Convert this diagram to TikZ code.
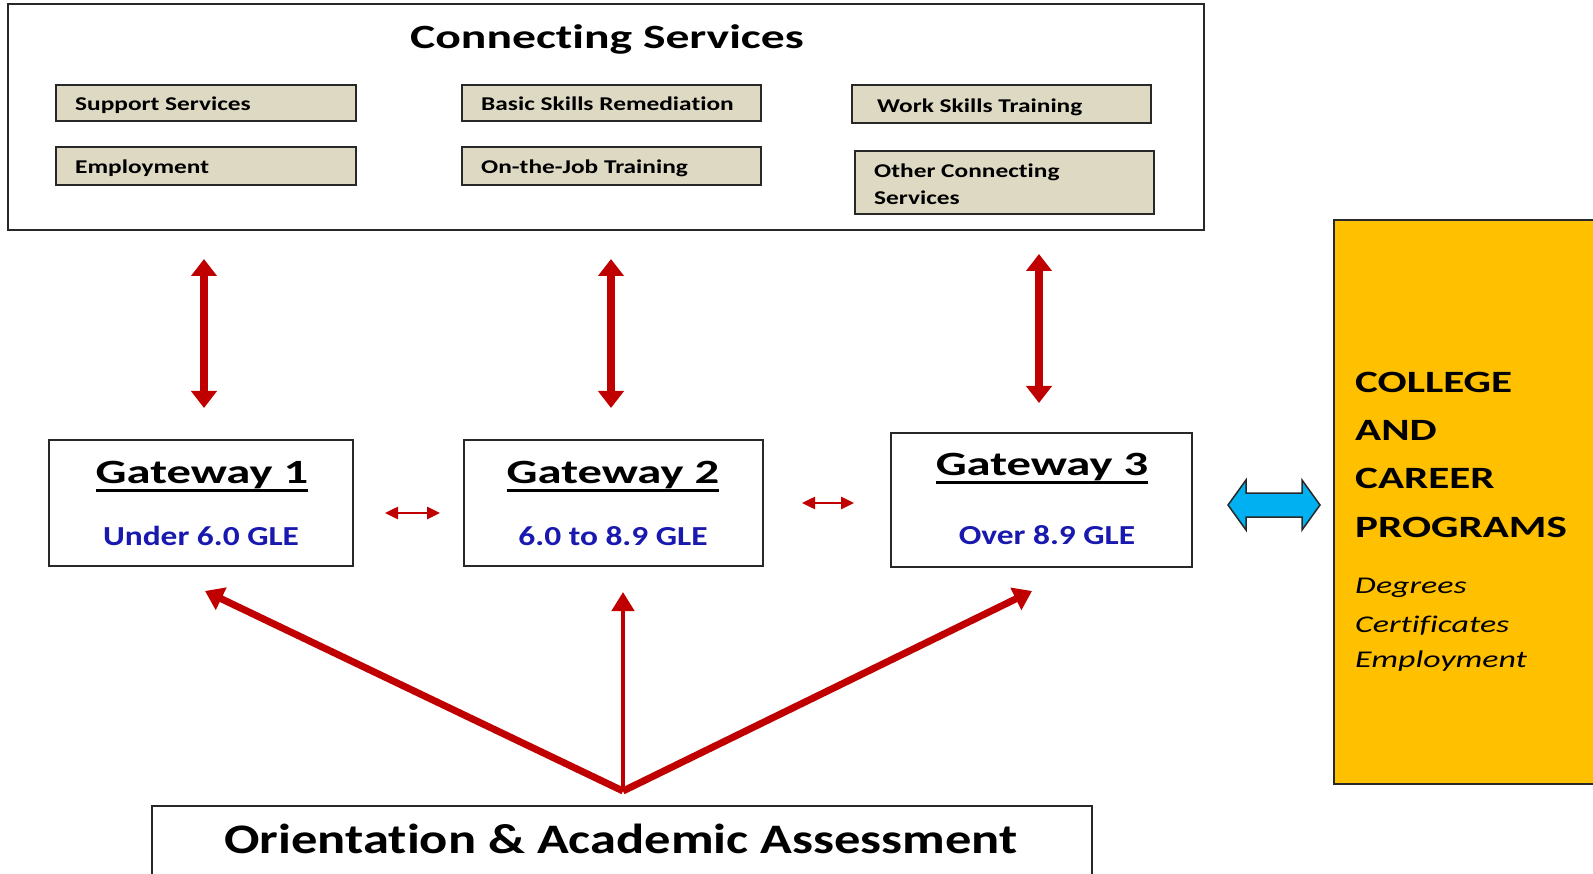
\documentclass[tikz,border=0pt]{standalone}
\usepackage{fontspec}
\defaultfontfeatures{Ligatures=NoCommon}
\setmainfont{Carlito}[FakeStretch=1.3]
\newfontfamily\fTitle{Carlito}[FakeStretch=1.40]
\newfontfamily\fGate{Carlito}[FakeStretch=1.43]
\newfontfamily\fGle{Carlito}[FakeStretch=1.215]
\newfontfamily\fCaps{Carlito}[FakeStretch=1.39]
\newfontfamily\fItal{Carlito}[FakeStretch=1.41]
\newfontfamily\fOaa{Carlito}[FakeStretch=1.25]
\usetikzlibrary{arrows.meta}
\definecolor{cred}{RGB}{192,0,0}
\definecolor{tanbox}{RGB}{221,217,195}
\definecolor{goldbox}{RGB}{255,192,0}
\definecolor{cyanarrow}{RGB}{0,176,240}
\definecolor{gleblue}{RGB}{25,25,175}
\definecolor{edgegray}{RGB}{40,40,40}
\tikzset{
  box/.style={draw=edgegray, line width=1.5pt, inner sep=0pt},
  beige/.style={box, fill=tanbox, minimum width=299pt},
  txt/.style={inner sep=0pt},
  btxt/.style={txt, anchor=base west, font=\fontsize{19.5}{27}\selectfont\bfseries},
  gtitle/.style={txt, anchor=base, font=\fontsize{34}{40}\fGate\bfseries},
  gsub/.style={txt, anchor=base, text=gleblue, font=\fontsize{27.5}{32}\fGle\bfseries},
  ul/.style={line width=3pt, black},
  ycap/.style={txt, anchor=base west, font=\fontsize{31}{36}\fCaps\bfseries},
  yital/.style={txt, anchor=base west, font=\fontsize{24}{28}\fItal\itshape},
  vred/.style={cred, line width=8pt, {Triangle[width=25pt,length=17pt]}-{Triangle[width=25pt,length=17pt]}},
  hred/.style={cred, line width=2.5pt, {Triangle[width=12pt,length=13pt]}-{Triangle[width=12pt,length=13pt]}},
  fanside/.style={cred, line width=7pt, -{Triangle[width=24pt,length=18pt]}},
  fanmid/.style={cred, line width=4.5pt, -{Triangle[width=22pt,length=19pt]}},
}
\begin{document}
\begin{tikzpicture}[x=1pt,y=-1pt]
\useasboundingbox (0,0) rectangle (1593,874);
\clip (0,0) rectangle (1593,874);
\fill[white] (0,0) rectangle (1593,874);

% top container
\node[box, minimum width=1196pt, minimum height=226pt] (cs) at (606,117) {};
\node[txt, anchor=base, font=\fontsize{34}{40}\fTitle\bfseries] (cst) at (607,49) {Connecting Services};

\node[beige, minimum width=300pt, minimum height=36pt] (ss) at (206,103) {};
\node[beige, minimum width=300pt, minimum height=38pt] (emp) at (206,166) {};
\node[beige, minimum height=36pt] (bsr) at (611.5,103) {};
\node[beige, minimum height=38pt] (ojt) at (611.5,166) {};
\node[beige, minimum height=38pt] (wst) at (1001.5,104) {};
\node[beige, minimum height=63pt] (ocs) at (1004.5,182.5) {};

\node[btxt] (sst) at (75,111) {Support Services};
\node[btxt] (empt) at (75,174) {Employment};
\node[btxt] (bsrt) at (481,111) {Basic Skills Remediation};
\node[btxt] (ojtt) at (481,174) {On-the-Job Training};
\node[btxt] (wstt) at (877,113) {Work Skills Training};
\node[btxt] (ocst1) at (874,178) {Other Connecting};
\node[btxt] (ocst2) at (874,205) {Services};

% gateways
\node[box, minimum width=304pt, minimum height=126pt] (g1) at (201,503) {};
\node[box, minimum width=299pt, minimum height=126pt] (g2) at (613.5,503) {};
\node[box, minimum width=301pt, minimum height=134pt] (g3) at (1041.5,500) {};

\node[gtitle] (g1t) at (202,483) {Gateway 1};
\node[gtitle] (g2t) at (613,483) {Gateway 2};
\node[gtitle] (g3t) at (1042,475) {Gateway 3};
\draw[ul] ([yshift=-7pt]g1t.base west) -- ([yshift=-7pt]g1t.base east);
\draw[ul] ([yshift=-7pt]g2t.base west) -- ([yshift=-7pt]g2t.base east);
\draw[ul] ([yshift=-7pt]g3t.base west) -- ([yshift=-7pt]g3t.base east);

\node[gsub] (g1s) at (201,545) {Under 6.0 GLE};
\node[gsub] (g2s) at (613,545) {6.0 to 8.9 GLE};
\node[gsub] (g3s) at (1047,544) {Over 8.9 GLE};

% college box
\node[box, fill=goldbox, minimum width=306pt, minimum height=564pt] (ccp) at (1487,502) {};
\node[ycap] (y1) at (1355,393) {COLLEGE};
\node[ycap] (y2) at (1355,440) {AND};
\node[ycap] (y3) at (1355,488) {CAREER};
\node[ycap] (y4) at (1355,537) {PROGRAMS};
\node[yital] (y5) at (1355,593) {Degrees};
\node[yital] (y6) at (1355,632) {Certificates};
\node[yital] (y7) at (1355,667) {Employment};

% bottom box
\node[box, minimum width=940pt, minimum height=94pt] (oaa) at (622,853) {};
\node[txt, anchor=base, font=\fontsize{42}{48}\fOaa\bfseries] (oaat) at (621,853) {Orientation \& Academic Assessment};

% vertical arrows
\coordinate (v1a) at (204,259); \coordinate (v1b) at (204,408);
\coordinate (v2a) at (611,259); \coordinate (v2b) at (611,408);
\coordinate (v3a) at (1039,254); \coordinate (v3b) at (1039,403);
\draw[vred] (v1a) -- (v1b);
\draw[vred] (v2a) -- (v2b);
\draw[vred] (v3a) -- (v3b);

% horizontal small arrows
\coordinate (h1a) at (385,513); \coordinate (h1b) at (440,513);
\coordinate (h2a) at (802,503); \coordinate (h2b) at (854,503);
\draw[hred] (h1a) -- (h1b);
\draw[hred] (h2a) -- (h2b);

% blue double arrow
\draw[draw=edgegray, line width=1.5pt, fill=cyanarrow]
  (1228,505) -- (1246,480) -- (1246,493) -- (1302,493) -- (1302,480) -- (1320,505)
  -- (1302,530) -- (1302,517) -- (1246,517) -- (1246,530) -- cycle;

% fan arrows
\coordinate (fan) at (623,791);
\coordinate (t1) at (205,591);
\coordinate (t2) at (623,592);
\coordinate (t3) at (1032,591);
\draw[fanside] (fan) -- (t1);
\draw[fanside] (fan) -- (t3);
\draw[fanmid] (fan) -- (t2);
\end{tikzpicture}
\end{document}
